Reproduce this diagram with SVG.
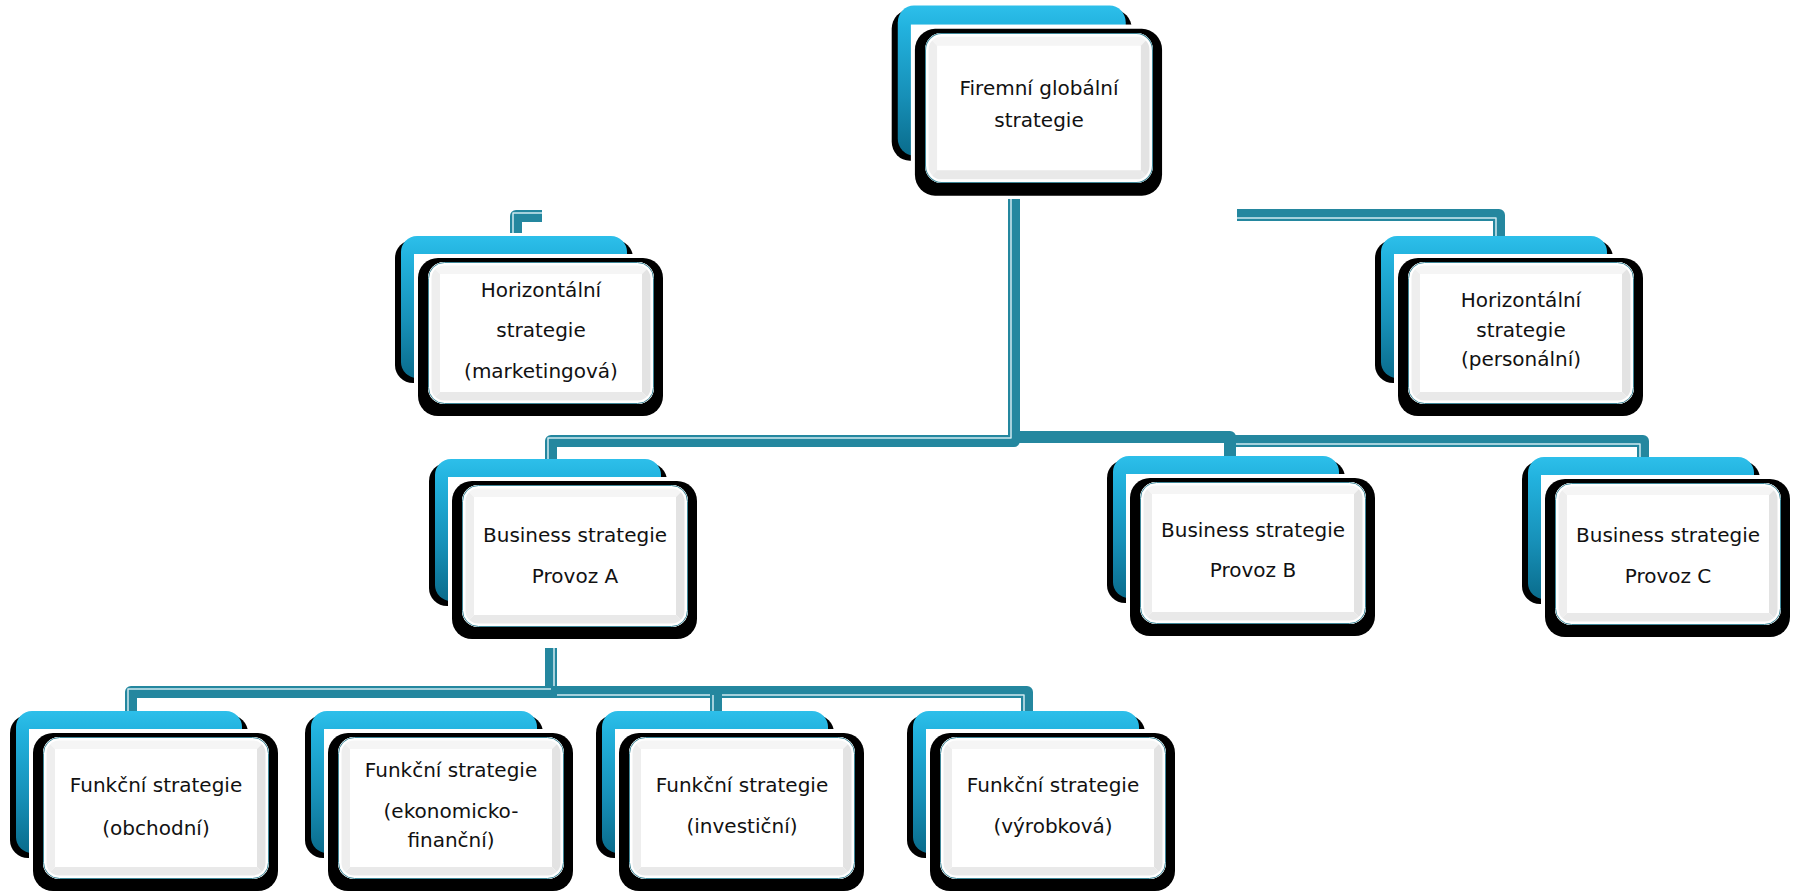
<svg xmlns="http://www.w3.org/2000/svg" xmlns:xlink="http://www.w3.org/1999/xlink" width="1794" height="895" viewBox="0 0 1794 895">
<defs>
<style>
.t{font-family:"DejaVu Sans","Liberation Sans",sans-serif;font-size:20px;fill:#111;text-anchor:middle}
.c{fill:none;stroke:#24879f;stroke-width:12;stroke-linejoin:round}
.s{fill:none;stroke:#cfeaf1;stroke-width:1.5;stroke-linejoin:round}
</style>
<linearGradient id="blue" x1="0" y1="0" x2="0" y2="1">
<stop offset="0" stop-color="#2dbfea"/>
<stop offset="0.15" stop-color="#22b2de"/>
<stop offset="0.6" stop-color="#1790b8"/>
<stop offset="1" stop-color="#0a6c8c"/>
</linearGradient>
<clipPath id="cc"><rect width="226" height="142" rx="16"/></clipPath>
<g id="card">
<rect x="-33" y="-22" width="238" height="143" rx="18" fill="#000"/>
<rect x="-27" y="-26" width="226" height="142" rx="16" fill="url(#blue)"/>
<rect x="-14" y="-8" width="254" height="160" fill="#fff"/>
<rect x="-10" y="-4" width="245" height="158" rx="20" fill="#000"/>
<g clip-path="url(#cc)">
<rect width="226" height="142" fill="#fff"/>
<polygon points="0,0 226,0 214,12 12,12" fill="#f5f5f5"/>
<polygon points="0,0 12,12 12,130 0,142" fill="#eeeeee"/>
<polygon points="226,0 226,142 214,130 214,12" fill="#e3e3e3"/>
<polygon points="0,142 12,130 214,130 226,142" fill="#e9e9e9"/>
</g>
<rect x="2" y="2" width="222" height="138" rx="14" fill="none" stroke="#fff" stroke-width="3"/>
<rect x="0.5" y="0.5" width="225" height="141" rx="16" fill="none" stroke="#3f8798" stroke-width="1"/>
</g>
</defs>
<rect width="1794" height="895" fill="#fff"/>
<g id="connectors">
<path class="c" d="M1014 199 V441 H551 V460"/>
<path class="s" d="M1011 199 V438 H548 V460"/>
<path class="c" d="M1014 437 H1230 V456"/>
<path class="c" d="M1230 441 H1643 V460"/>
<path class="s" d="M1236 444 H1640 V460"/>
<path class="c" d="M1237 215 H1499 V237"/>
<path class="s" d="M1237 218 H1496 V237"/>
<path class="c" d="M542 216 H516 V233"/>
<path class="s" d="M542 213 H513 V233"/>
<path class="c" d="M551 648 V692 H131 V712"/>
<path class="s" d="M554 648 V689 H128 V712"/>
<path class="c" d="M551 692 H1027 V712"/>
<path class="s" d="M557 695 H1024 V712"/>
<path class="c" d="M716 692 V712"/>
<path class="s" d="M713 695 V712"/>
</g>
<g id="n-global">
<use xlink:href="#card" transform="translate(925,33) scale(1.0088,1.0563)"/>
<text class="t" x="1039" y="95">Firemní globální</text>
<text class="t" x="1039" y="127">strategie</text>
</g>
<g id="n-marketing">
<use xlink:href="#card" x="428" y="262"/>
<text class="t" x="541" y="297">Horizontální</text>
<text class="t" x="541" y="337">strategie</text>
<text class="t" x="541" y="378">(marketingová)</text>
</g>
<g id="n-personal">
<use xlink:href="#card" x="1408" y="262"/>
<text class="t" x="1521" y="307">Horizontální</text>
<text class="t" x="1521" y="337">strategie</text>
<text class="t" x="1521" y="366">(personální)</text>
</g>
<g id="n-provozA">
<use xlink:href="#card" x="462" y="485"/>
<text class="t" x="575" y="542">Business strategie</text>
<text class="t" x="575" y="583">Provoz A</text>
</g>
<g id="n-provozB">
<use xlink:href="#card" x="1140" y="482"/>
<text class="t" x="1253" y="537">Business strategie</text>
<text class="t" x="1253" y="577">Provoz B</text>
</g>
<g id="n-provozC">
<use xlink:href="#card" x="1555" y="483"/>
<text class="t" x="1668" y="542">Business strategie</text>
<text class="t" x="1668" y="583">Provoz C</text>
</g>
<g id="n-obchodni">
<use xlink:href="#card" x="43" y="737"/>
<text class="t" x="156" y="792">Funkční strategie</text>
<text class="t" x="156" y="835">(obchodní)</text>
</g>
<g id="n-ekonomicko">
<use xlink:href="#card" x="338" y="737"/>
<text class="t" x="451" y="777">Funkční strategie</text>
<text class="t" x="451" y="818">(ekonomicko-</text>
<text class="t" x="451" y="847">finanční)</text>
</g>
<g id="n-investicni">
<use xlink:href="#card" x="629" y="737"/>
<text class="t" x="742" y="792">Funkční strategie</text>
<text class="t" x="742" y="833">(investiční)</text>
</g>
<g id="n-vyrobkova">
<use xlink:href="#card" x="940" y="737"/>
<text class="t" x="1053" y="792">Funkční strategie</text>
<text class="t" x="1053" y="833">(výrobková)</text>
</g>
</svg>
